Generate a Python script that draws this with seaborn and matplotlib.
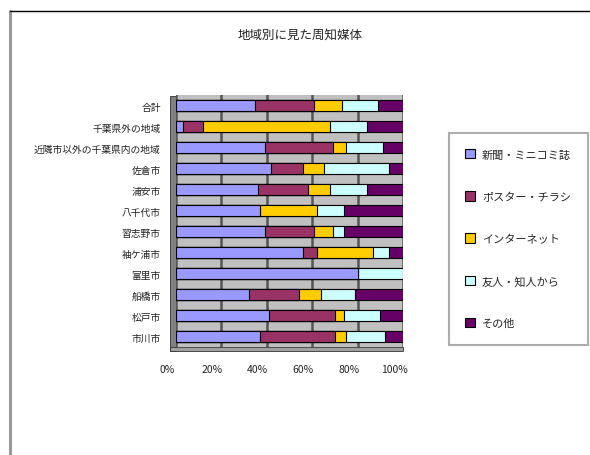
import matplotlib
matplotlib.use("Agg")
import matplotlib.pyplot as plt
import matplotlib.transforms as mtransforms
from matplotlib.patches import Patch, Rectangle
from matplotlib.lines import Line2D
import numpy as np
import pandas as pd
import seaborn as sns

sns.set_theme(style="white")
plt.rcParams['font.family'] = ['Noto Sans CJK JP', 'DejaVu Sans']

title = "地域別に見た周知媒体"
categories = ["合計", "千葉県外の地域", "近隣市以外の千葉県内の地域", "佐倉市", "浦安市",
              "八千代市", "習志野市", "袖ケ浦市", "富里市", "船橋市", "松戸市", "市川市"]
series = ["新聞・ミニコミ誌", "ポスター・チラシ", "インターネット", "友人・知人から", "その他"]
news    = [35, 3, 39, 42, 36, 37, 39, 56, 80, 32, 41, 37]
poster  = [26, 9, 30, 14, 22, 0, 22, 6, 0, 22, 29, 33]
net     = [12, 56, 6, 9, 10, 25, 8, 25, 0, 10, 4, 5]
friend  = [16, 16, 16, 29, 16, 12, 5, 7, 20, 15, 16, 17]
other   = [11, 16, 9, 6, 16, 26, 26, 6, 0, 21, 10, 8]
xticks = [0, 20, 40, 60, 80, 100]
xticklabels = ["0%", "20%", "40%", "60%", "80%", "100%"]
colors = ["#9999FF", "#993366", "#FFCC00", "#CCFFFF", "#660066"]

vals = np.array([news, poster, net, friend, other], dtype=float)
pct = vals / vals.sum(axis=0) * 100
cum = np.cumsum(pct, axis=0)

fig = plt.figure(figsize=(5.90, 4.56), dpi=100)
fig.patch.set_facecolor("white")

# chart area border (Excel style)
fig.add_artist(Line2D([10/590, 10/590], [0, 1 - 12/456], color="#999999", lw=2.2,
                      transform=fig.transFigure))
fig.add_artist(Line2D([10/590, 1], [1 - 12/456, 1 - 12/456], color="black", lw=1.0,
                      transform=fig.transFigure))

ax = fig.add_axes([176/590, 1 - 348/456, 227/590, 252/456])
ax.set_facecolor("#C0C0C0")

# side wall and floor for a 3D feel
fig.add_artist(Rectangle((170/590, 1 - 352/456), 6/590, 255/456, transform=fig.transFigure,
                         facecolor="#808080", edgecolor="#333333", lw=0.6, zorder=0))
fig.add_artist(Rectangle((170/590, 1 - 352/456), 233/590, 4/456, transform=fig.transFigure,
                         facecolor="#A0A0A0", edgecolor="#333333", lw=0.6, zorder=0))

for x in xticks:
    ax.axvline(x, color="#555555", lw=1.8, zorder=1)

for i in range(len(series) - 1, -1, -1):
    d = pd.DataFrame({"cat": categories, "val": cum[i]})
    sns.barplot(data=d, x="val", y="cat", orient="h", color=colors[i],
                width=0.5, edgecolor="black", linewidth=0.8, ax=ax, zorder=3,
                saturation=1)

ax.set_xlim(0, 100)
ax.set_ylim(len(categories) - 0.5, -0.5)
ax.set_xlabel("")
ax.set_ylabel("")
ax.set_xticks(xticks)
ax.set_xticklabels(xticklabels, fontsize=7.5, color="#222222")
ax.tick_params(axis="x", length=0, pad=12)
ax.tick_params(axis="y", length=0, pad=11, labelsize=7)
for lab in ax.get_yticklabels():
    lab.set_color("#222222")
offset = mtransforms.ScaledTranslation(-9/100, 0, fig.dpi_scale_trans)
for lab in ax.get_xticklabels():
    lab.set_transform(lab.get_transform() + offset)
for s in ax.spines.values():
    s.set_visible(False)

fig.text(300/590, 1 - 35/456, title, ha="center", va="center", fontsize=9, color="#222222")

handles = [Patch(facecolor=c, edgecolor="black", lw=0.8) for c in colors]
leg = fig.legend(handles, series, loc="upper left", bbox_to_anchor=(443/590, 1 - 128/456),
                 frameon=True, fontsize=8, labelspacing=2.85, handlelength=0.9,
                 handleheight=0.9, handletextpad=0.6, borderpad=1.5, fancybox=False)
leg.get_frame().set_edgecolor("#999999")
leg.get_frame().set_linewidth(1.5)

fig.savefig("out.png", dpi=100, facecolor="white")
